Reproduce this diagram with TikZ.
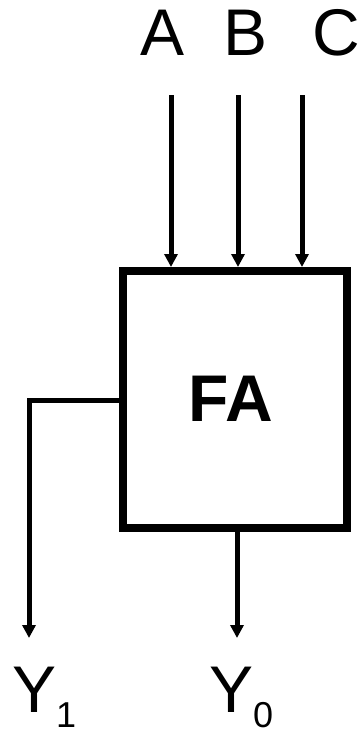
\documentclass[tikz,border=0pt]{standalone}
\usepackage{fontspec}
\setmainfont{Liberation Sans}
\usetikzlibrary{arrows.meta, positioning}

\tikzset{
  sig/.style={line width=5pt},
  lbl/.style={inner sep=0pt, anchor=base, font=\fontsize{66}{70}\selectfont}
}
\newcommand{\outsub}[1]{\raisebox{-15pt}{\fontsize{36}{40}\selectfont #1}}

\begin{document}
\begin{tikzpicture}[x=1pt, y=-1pt, >={Triangle[length=13pt,width=13pt]}]
    \useasboundingbox (0,0) rectangle (360,731);

    % Block FA
    \node[draw, line width=8pt, minimum width=224pt, minimum height=257pt] (fa) at (235,399.5) {};
    \node[inner sep=0pt, font=\fontsize{66}{70}\bfseries\selectfont] (falbl) at (230.5,399) {FA};

    % Inputs
    \node[lbl] (a) at (163,55) {A};
    \node[lbl] (b) at (246,55) {B};
    \node[lbl] (c) at (336,55) {C};
    \coordinate (inA) at (171,95);
    \coordinate (inB) at (238,95);
    \coordinate (inC) at (302,95);
    \draw[sig, ->] (inA) -- (inA |- fa.north);
    \draw[sig, ->] (inB) -- (inB |- fa.north);
    \draw[sig, ->] (inC) -- (inC |- fa.north);

    % Outputs
    \coordinate (outY1) at (29,638);
    \coordinate (outY0) at (237,638);
    \draw[sig, ->] ([yshift=-0.5pt]fa.west) -| (outY1);
    \draw[sig, ->] (outY0 |- fa.south) -- (outY0);
    \node[lbl, anchor=base west] (y1) at (12,712) {Y\outsub{1}};
    \node[lbl, anchor=base west] (y0) at (209,712) {Y\outsub{0}};

\end{tikzpicture}
\end{document}
